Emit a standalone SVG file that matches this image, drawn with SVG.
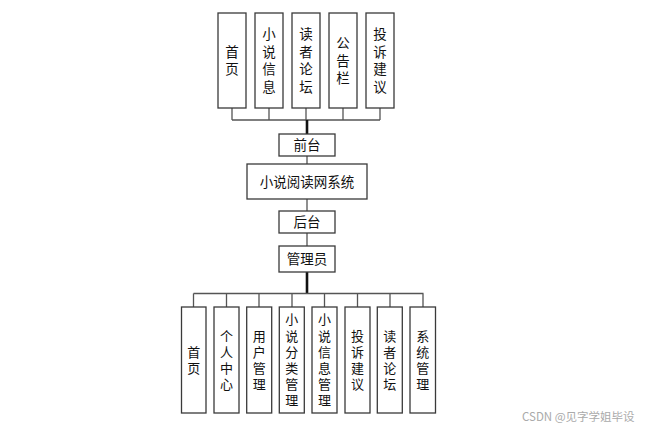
<svg xmlns="http://www.w3.org/2000/svg" width="651" height="430" viewBox="0 0 651 430">
<style>
.box{fill:#fff;stroke:#3a3a3a;stroke-width:1.3}
.t{font-family:"Noto Sans CJK SC","Liberation Sans",sans-serif;font-size:13.5px;fill:#111;text-anchor:middle}
.v{font-family:"Noto Sans CJK SC","Liberation Sans",sans-serif;font-size:13.5px;fill:#111;text-anchor:middle;writing-mode:vertical-rl;letter-spacing:4px}
.vb{font-family:"Noto Sans CJK SC","Liberation Sans",sans-serif;font-size:13px;fill:#111;text-anchor:middle;writing-mode:vertical-rl;letter-spacing:3.2px}
.ln{stroke:#555;stroke-width:1.3;fill:none}
.tk{stroke:#111;stroke-width:2.6;fill:none}
.wm{font-family:"Noto Sans CJK SC","Liberation Sans",sans-serif;font-size:11.5px;fill:#aaa}
</style>
<rect width="651" height="430" fill="#fff"/>
<g id="connectors">
<path class="ln" d="M232,108V120M269,108V120M306,108V120M343,108V120M380,108V120M232,120H380"/>
<path class="tk" d="M307,120V134"/>
<path class="ln" d="M307,156V164M307,199V211M307,233V246"/>
<path class="tk" d="M307,272V293.5"/>
<path class="ln" d="M193.5,293.5H423.5M193.5,293.5V307M226.5,293.5V307M259,293.5V307M292,293.5V307M324.5,293.5V307M357.5,293.5V307M390,293.5V307M423,293.5V307"/>
</g>
<g id="top-shouye"><rect class="box" x="218" y="13" width="28" height="95"/><text class="v" x="232" y="62.5">首页</text></g>
<g id="top-xiaoshuoxinxi"><rect class="box" x="255" y="13" width="28" height="95"/><text class="v" x="269" y="62.5">小说信息</text></g>
<g id="top-duzheluntan"><rect class="box" x="292" y="13" width="28" height="95"/><text class="v" x="306" y="62.5">读者论坛</text></g>
<g id="top-gonggaolan"><rect class="box" x="329" y="13" width="28" height="95"/><text class="v" x="343" y="62.5">公告栏</text></g>
<g id="top-tousujianyi"><rect class="box" x="366" y="13" width="28" height="95"/><text class="v" x="380" y="62.5">投诉建议</text></g>
<g id="qiantai"><rect class="box" x="279" y="134" width="56" height="22"/><text class="t" x="307" y="150">前台</text></g>
<g id="system"><rect class="box" x="247" y="164" width="120" height="35"/><text class="t" x="307" y="186.5">小说阅读网系统</text></g>
<g id="houtai"><rect class="box" x="279" y="211" width="56" height="22"/><text class="t" x="307" y="227">后台</text></g>
<g id="admin"><rect class="box" x="279" y="246" width="56" height="26"/><text class="t" x="307" y="264">管理员</text></g>
<g id="b-shouye"><rect class="box" x="181.5" y="307" width="24.5" height="106"/><text class="vb" x="193.7" y="361.5">首页</text></g>
<g id="b-gerenzhongxin"><rect class="box" x="214" y="307" width="25" height="106"/><text class="vb" x="226.5" y="361.5">个人中心</text></g>
<g id="b-yonghuguanli"><rect class="box" x="246.7" y="307" width="25" height="106"/><text class="vb" x="259.2" y="361.5">用户管理</text></g>
<g id="b-fenlei"><rect class="box" x="279.3" y="307" width="25" height="106"/><text class="vb" x="291.8" y="361.5">小说分类管理</text></g>
<g id="b-xinxi"><rect class="box" x="312" y="307" width="25" height="106"/><text class="vb" x="324.5" y="361.5">小说信息管理</text></g>
<g id="b-tousu"><rect class="box" x="345" y="307" width="25" height="106"/><text class="vb" x="357.5" y="361.5">投诉建议</text></g>
<g id="b-luntan"><rect class="box" x="377.3" y="307" width="25" height="106"/><text class="vb" x="389.8" y="361.5">读者论坛</text></g>
<g id="b-xitong"><rect class="box" x="410" y="307" width="25.5" height="106"/><text class="vb" x="422.7" y="361.5">系统管理</text></g>
<text class="wm" x="522" y="421">CSDN @见字学姐毕设</text>
</svg>
